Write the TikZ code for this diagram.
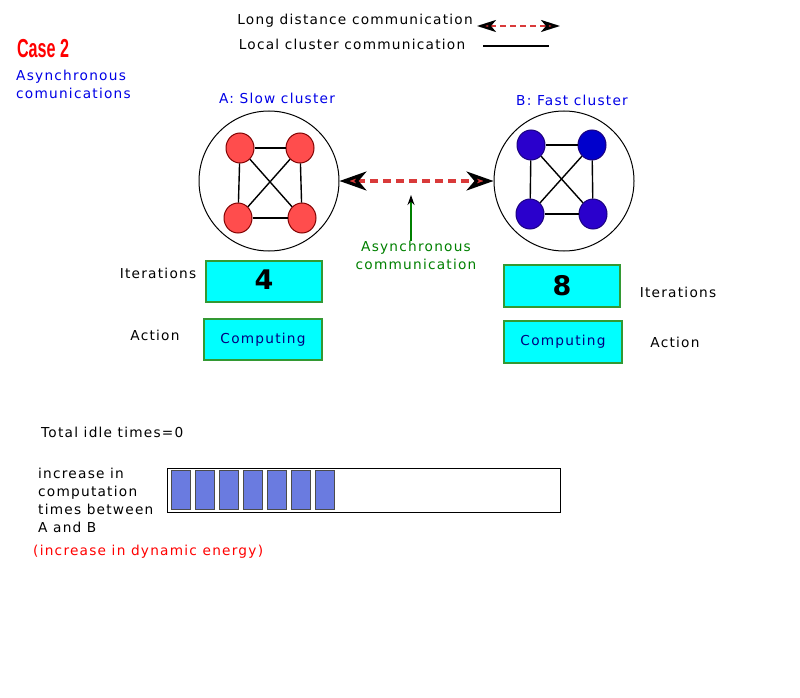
\documentclass[tikz,border=0pt]{standalone}
\usepackage{fontspec}
\usepackage{graphicx}
\setmainfont{DejaVu Sans}[LetterSpace=9]
\newfontfamily\casefont{Liberation Sans}
\usetikzlibrary{arrows.meta,shapes.geometric}

\definecolor{nodered}{HTML}{FF4D4D}
\definecolor{nodedarkred}{HTML}{800000}
\definecolor{nodeblue}{HTML}{2A00CC}
\definecolor{nodedarkblue}{HTML}{1A0080}
\definecolor{boxcyan}{HTML}{00FFFF}
\definecolor{boxgreen}{HTML}{339933}
\definecolor{labelblue}{HTML}{0000E6}
\definecolor{dashred}{HTML}{D93A3A}
\definecolor{navytext}{HTML}{000080}
\definecolor{asyncgreen}{HTML}{008000}
\definecolor{barblue}{HTML}{6A7BE0}

\tikzset{
	redproc/.style={shape=ellipse, draw=nodedarkred, fill=nodered, line width=1pt, minimum width=28pt, minimum height=30pt, inner sep=0pt},
	blueproc/.style={shape=ellipse, draw=nodedarkblue, fill=nodeblue, line width=1pt, minimum width=28pt, minimum height=30pt, inner sep=0pt},
	cluster/.style={shape=circle, draw, line width=1pt, minimum size=140pt, inner sep=0pt},
	link/.style={-, black, line width=1.4pt},
	longlink/.style={{Stealth[black, length=27pt, width=19pt, inset=8pt]}-{Stealth[black, length=27pt, width=19pt, inset=8pt]}, dashred, line width=3.2pt, dash pattern=on 8pt off 5pt},
	cyanbox/.style={shape=rectangle, draw=boxgreen, fill=boxcyan, line width=1.2pt, minimum width=116pt, minimum height=41pt, inner sep=0pt},
	txt/.style={inner sep=0pt, align=left},
	slot/.style={shape=rectangle, draw=black!70, fill=barblue, line width=0.8pt, minimum width=19pt, minimum height=39pt, inner sep=0pt}
}

\begin{document}
\begin{tikzpicture}[x=1pt, y=-1pt, font=\fontsize{13.7}{18}\selectfont]
	\useasboundingbox (0,0) rectangle (800,698);

	% legend
	\node[txt]                          (ld)  at (355,21)  {Long distance communication};
	\node[txt]                          (lc)  at (352,44)  {Local cluster communication};
	\coordinate (ld0) at (477,26);
	\coordinate (ld1) at (560,26);
	\coordinate (lc0) at (483,46);
	\coordinate (lc1) at (549,46);
	\path [{Stealth[black, length=19pt, width=12pt, inset=5pt]}-{Stealth[black, length=19pt, width=12pt, inset=5pt]}, dashred, line width=2.4pt, dash pattern=on 6pt off 4pt] (ld0) edge (ld1);
	\path [-, black, line width=1.2pt] (lc0) edge (lc1);

	% case title
	\node[txt, text=red]                (case) at (43,49)  {\scalebox{0.62}[1]{\casefont\bfseries\fontsize{26}{26}\selectfont Case 2}};
	\node[txt, text=labelblue, anchor=west] (mode) at (16,84) {Asynchronous\\comunications};

	% clusters
	\node[txt, text=labelblue]          (la)  at (277,98)  {A: Slow cluster};
	\node[txt, text=labelblue]          (lb)  at (572,100) {B: Fast cluster};
	\node[cluster]                      (A)   at (269,181) {};
	\node[cluster]                      (B)   at (564,181) {};

	\node[redproc]                      (a0)  at (240,148) {};
	\node[redproc]                      (a1)  at (300,148) {};
	\node[redproc]                      (a2)  at (238,218) {};
	\node[redproc]                      (a3)  at (302,218) {};

	\path [link] (a0) edge (a1);
	\path [link] (a0) edge (a2);
	\path [link] (a1) edge (a3);
	\path [link] (a2) edge (a3);
	\path [link] (a0) edge (a3);
	\path [link] (a1) edge (a2);

	\node[blueproc]                     (b0)  at (531,145) {};
	\node[blueproc, fill=blue!80!black] (b1)  at (592,145) {};
	\node[blueproc]                     (b2)  at (530,214) {};
	\node[blueproc]                     (b3)  at (593,214) {};

	\path [link] (b0) edge (b1);
	\path [link] (b0) edge (b2);
	\path [link] (b1) edge (b3);
	\path [link] (b2) edge (b3);
	\path [link] (b0) edge (b3);
	\path [link] (b1) edge (b2);

	\path [longlink] (A) edge (B);

	\node[txt, text=asyncgreen, align=center] (async) at (416,255) {Asynchronous\\communication};
	\coordinate (asynctip) at (411,195);
	\draw [-{Stealth[black, length=10pt, width=7pt]}, asyncgreen, line width=1.3pt] (async.north -| asynctip) -- (asynctip);

	% iterations and action
	\node[cyanbox]                      (ita) at (264,281.5) {\fontsize{27}{27}\selectfont\bfseries\raisebox{4pt}{4}};
	\node[cyanbox, minimum height=42pt] (itb) at (562,286)   {\fontsize{27}{27}\selectfont\bfseries 8};
	\node[cyanbox, minimum width=118pt, text=navytext] (aca) at (263,339.5) {Computing};
	\node[cyanbox, minimum width=118pt, minimum height=42pt, text=navytext] (acb) at (563,342) {Computing};

	\node[txt]                          (lita) at (158,273) {Iterations};
	\node[txt]                          (laca) at (155,335) {Action};
	\node[txt]                          (litb) at (678,292) {Iterations};
	\node[txt]                          (lacb) at (675,342) {Action};

	% idle times and bar
	\node[txt, anchor=west]             (idle) at (41,432)  {Total idle times=0};
	\node[txt, anchor=west]             (inc)  at (38,500)  {increase in\\computation\\times between\\A and B};
	\node[txt, anchor=west, text=red]   (dyn)  at (33,552)  {(increase in dynamic energy)};

	\node[shape=rectangle, draw, fill=white, line width=0.8pt, minimum width=393pt, minimum height=44pt, inner sep=0pt] (bar) at (363.5,490) {};
	\foreach \i in {0,...,6}
		\node[slot] (s\i) at (180.5+24*\i,489.5) {};
\end{tikzpicture}
\end{document}
